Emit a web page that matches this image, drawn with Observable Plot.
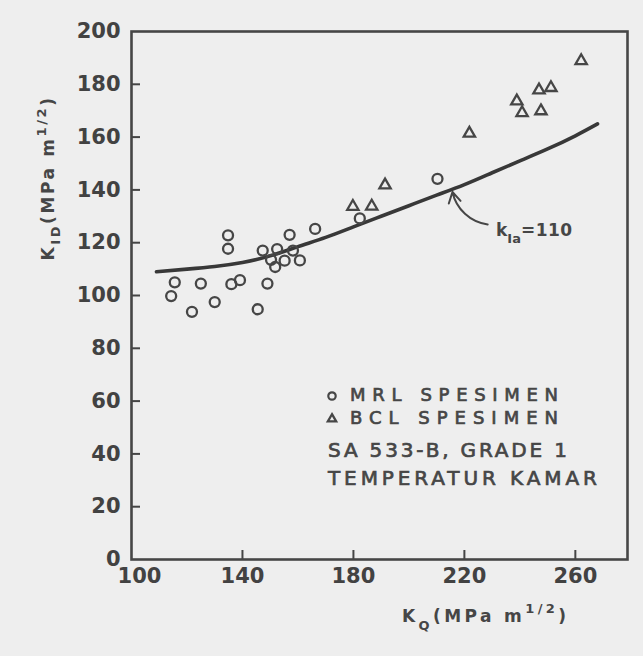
<!DOCTYPE html>
<html>
<head>
<meta charset="utf-8">
<script src="https://cdn.jsdelivr.net/npm/d3@7"></script>
<script src="https://cdn.jsdelivr.net/npm/@observablehq/plot@0.6"></script>
<style>
  html, body { margin: 0; padding: 0; background: #eeeeee; }
  #chart svg { display: block; }
</style>
</head>
<body>
<div id="chart"></div>
<script>
// Axis ticks
const kqTicks = [100, 140, 180, 220, 260];
const kqTickLabels = ["100", "140", "180", "220", "260"];
const kidTicks = [0, 20, 40, 60, 80, 100, 120, 140, 160, 180, 200];

// MRL specimens (open circles)
const mrlKQ  = [114.3, 115.6, 121.8, 125.0, 130.0, 134.8, 134.8, 136.0, 139.1, 145.5, 147.3,
                149.0, 150.3, 151.8, 152.5, 155.2, 157.0, 158.2, 160.7, 166.2, 182.3, 210.3];
const mrlKID = [ 99.8, 105.0,  93.8, 104.5,  97.5, 122.8, 117.7, 104.3, 105.8,  94.8, 117.0,
                104.5, 113.5, 110.8, 117.6, 113.2, 123.0, 117.0, 113.3, 125.2, 129.2, 144.2];

// BCL specimens (open triangles)
const bclKQ  = [179.8, 186.6, 191.4, 221.8, 238.9, 240.8, 246.9, 251.2, 247.6, 262.1];
const bclKID = [133.7, 133.8, 141.8, 161.4, 173.6, 169.2, 177.8, 178.7, 169.9, 188.9];

// Reference curve for k_Ia = 110
const fitKQ  = [109, 120, 130, 140, 150, 160, 170, 180, 190, 200, 210, 220, 230, 240, 250, 260, 268];
const fitKID = [109, 110, 111, 112.5, 115, 118.5, 122, 126, 130, 134, 138, 142, 146.5, 151, 155.5, 160.5, 165];

// Curve annotation: arrow from the label to the curve
const annotFromKQ = 228.4, annotFromKID = 126.9;
const annotToKQ = 215.7, annotToKID = 139.2;

const mrl = mrlKQ.map((x, i) => ({x, y: mrlKID[i]}));
const bcl = bclKQ.map((x, i) => ({x, y: bclKID[i]}));
const fit = fitKQ.map((x, i) => ({x, y: fitKID[i]}));

const ink = "#464646";
const W = 643, H = 656, mL = 131, mR = 16, mT = 31, mB = 97;
const innerW = W - mL - mR, innerH = H - mT - mB;
const tickLen = 9;
const tickFont = {fontSize: 21, fontWeight: "bold", fill: "#424242", tickSize: 0, label: null};

const chart = Plot.plot({
  width: W, height: H,
  marginLeft: mL, marginRight: mR, marginTop: mT, marginBottom: mB,
  x: {domain: [100, 278.8]},
  y: {domain: [0, 200]},
  style: {background: "transparent", fontFamily: "DejaVu Sans", color: ink},
  marks: [
    Plot.frame({stroke: ink, strokeWidth: 2.6}),
    // inward tick marks
    Plot.tickY(kidTicks.filter(v => v > 0 && v < 200), {y: d => d, insetRight: innerW - tickLen, stroke: ink, strokeWidth: 2}),
    Plot.tickX(kqTicks.filter(v => v > 100), {x: d => d, insetTop: innerH - tickLen, stroke: ink, strokeWidth: 2}),
    Plot.axisY({...tickFont, ticks: kidTicks, tickPadding: 11}),
    Plot.axisX({...tickFont, ticks: kqTicks.slice(1), tickPadding: 9,
                tickFormat: d => kqTickLabels[kqTicks.indexOf(d)]}),
    // the corner label sits a little right of the origin
    Plot.axisX({...tickFont, ticks: kqTicks.slice(0, 1), tickPadding: 9, dx: 8,
                tickFormat: d => kqTickLabels[kqTicks.indexOf(d)]}),
    Plot.line(fit, {x: "x", y: "y", curve: "natural", stroke: "#383838", strokeWidth: 3.6}),
    Plot.dot(mrl, {x: "x", y: "y", r: 5, stroke: ink, strokeWidth: 2.3, fill: "none"}),
    Plot.dot(bcl, {x: "x", y: "y", r: 4.2, symbol: "triangle", stroke: ink, strokeWidth: 2.3, fill: "none"}),
    Plot.arrow([{}], {x1: () => annotFromKQ, y1: () => annotFromKID, x2: () => annotToKQ, y2: () => annotToKID,
                      bend: 35, headLength: 9, stroke: ink, strokeWidth: 2})
  ]
});

document.getElementById("chart").append(chart);

const svg = d3.select(chart);
const txt = (g) => g.attr("fill", ink).attr("font-family", "DejaVu Sans").attr("text-anchor", "start");

// Y axis title: K_ID (MPa m^1/2)
const yt = svg.append("text").call(txt)
  .attr("transform", "translate(54,178) rotate(-90)")
  .attr("text-anchor", "middle").attr("font-size", 17).attr("font-weight", "bold")
  .attr("letter-spacing", 2.6);
yt.append("tspan").text("K");
yt.append("tspan").attr("dy", 6).attr("font-size", 13).text("ID");
yt.append("tspan").attr("dy", -6).text("(MPa m");
yt.append("tspan").attr("dy", -8).attr("font-size", 13).text("1/2");
yt.append("tspan").attr("dy", 8).text(")");

// X axis title: K_Q (MPa m^1/2)
const xt = svg.append("text").call(txt)
  .attr("x", 402).attr("y", 622)
  .attr("font-size", 17).attr("font-weight", "bold").attr("letter-spacing", 3.4);
xt.append("tspan").text("K");
xt.append("tspan").attr("dy", 8).attr("font-size", 13).text("Q");
xt.append("tspan").attr("dy", -8).text("(MPa m");
xt.append("tspan").attr("dy", -9).attr("font-size", 13).text("1/2");
xt.append("tspan").attr("dy", 9).text(")");

// Curve label
const kl = svg.append("text").call(txt)
  .attr("x", 496).attr("y", 236).attr("font-size", 17).attr("font-weight", "bold");
kl.append("tspan").text("k");
kl.append("tspan").attr("dy", 7).attr("font-size", 13).text("Ia");
kl.append("tspan").attr("dy", -7).attr("letter-spacing", 0.5).text("=110");

// Legend block
const leg = svg.append("g");
leg.append("circle").attr("cx", 332).attr("cy", 396).attr("r", 3.7)
  .attr("fill", "none").attr("stroke", ink).attr("stroke-width", 2.2);
leg.append("path").attr("d", d3.symbol(d3.symbolTriangle2, 50)()).attr("transform", "translate(332,419)")
  .attr("fill", "none").attr("stroke", ink).attr("stroke-width", 2.3);
const legendLines = [
  {x: 350, y: 401, w: 208, s: 18, t: "MRL SPESIMEN"},
  {x: 350, y: 424, w: 208, s: 18, t: "BCL SPESIMEN"},
  {x: 328, y: 457, w: 239, s: 20, t: "SA 533-B, GRADE 1"},
  {x: 328, y: 485, w: 269, s: 20, t: "TEMPERATUR KAMAR"}
];
legendLines.forEach(l => {
  leg.append("text").call(txt)
    .attr("x", l.x).attr("y", l.y).attr("font-size", l.s)
    .attr("stroke", ink).attr("stroke-width", 0.7)
    .attr("textLength", l.w).attr("lengthAdjust", "spacing")
    .text(l.t);
});
</script>
</body>
</html>
